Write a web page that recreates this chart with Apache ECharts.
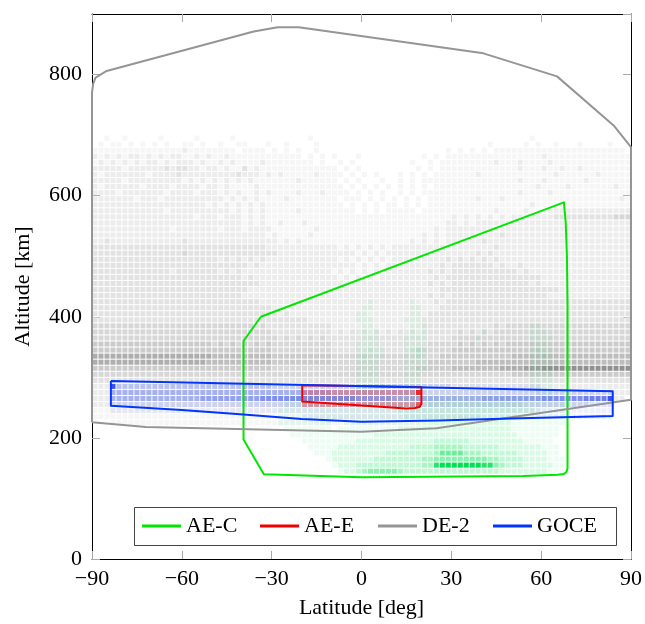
<!DOCTYPE html>
<html>
<head>
<meta charset="utf-8">
<script src="https://cdn.jsdelivr.net/npm/echarts@6/dist/echarts.min.js"></script>
<style>html,body{margin:0;padding:0;background:#fff}#chart{width:645px;height:624px}</style>
</head>
<body>
<div id="chart"></div>
<script>
// ---------- DATA ----------
const seriesNames = ['AE-C', 'AE-E', 'DE-2', 'GOCE'];
const xTicks = [-90, -60, -30, 0, 30, 60, 90];
const yTicks = [0, 200, 400, 600, 800];

// Outline of each satellite's sampled region: [latitude deg, altitude km]
const aecOutline = [[-33.6,400],[67.6,589],[68.2,555],[68.6,500],[68.8,420],[68.8,150],[68.5,144],[67.6,140.5],[65.5,139],[54,137],[0,135],[-32.6,140],[-39.4,197.5],[-39.4,360],[-33.6,400]];
const aeeOutline = [[-19.8,287],[20,284],[20,256],[19.4,251],[17.8,249.2],[15,248.7],[0,253.5],[-19.8,260],[-19.8,287]];
const de2Outline = [[-90,226],[-72,218],[0,210],[25,216],[90,263],[90,680],[84.2,716],[65.3,797],[40.7,835],[-15,874],[-21,878],[-28,878],[-36,871],[-85.1,806],[-88.8,795],[-89.6,785],[-90,770],[-90,226]];
const goceOutline = [[-83.7,294],[83.9,277],[83.9,236],[50,232],[25.6,228.7],[0,226.5],[-20,231],[-39.4,238.5],[-60,246],[-83.7,253],[-83.7,294]];

// Density cells: [altitude bin bottom (10 km bins), 90 digits = 2-degree latitude bins from -90]
const de2Density = [
 [690,"0010010000 0100000100 0001000000 0000001000 0000000000 0000000000 0000000000 0001000000 0000000000"],
 [680,"0101101010 1010011010 0100110001 0010000100 0000000000 0000000000 0000001000 0010100100 0100001000"],
 [670,"1111111111 1111121111 1111011110 1010100100 0000000000 0000000001 0101010111 1111111111 1111111110"],
 [660,"2121212212 1212211212 1121111111 1111101010 1000100000 0000010101 1111111111 1111121111 1111111111"],
 [650,"1212121212 2121222121 1212111121 1111111010 0101000000 0001001011 1111111211 1211112111 1111111111"],
 [640,"2222212222 2232332212 2121131211 1111111111 1010100000 0000101011 1111111111 1211121121 1211111111"],
 [630,"2122222221 2222322222 2222322212 1211111211 1101010100 0101010111 1111211111 1111111211 1111211111"],
 [620,"2222212222 2222212121 2121212111 1111211111 1010100010 0101011111 1111111111 1211121111 1121111111"],
 [610,"2122222212 2221222212 2121111211 1111111111 1101010101 0101010111 1111111111 1111211112 1111111211"],
 [600,"2222122222 2212222122 2121211212 1111211121 1110101010 0101011111 1111111111 1211112111 1111111111"],
 [590,"2222222122 2122222222 2212121211 1121111111 1011101010 1010101111 1111211121 1111111111 1111111121"],
 [580,"2222222222 2222222221 2121212121 1111111111 1101010101 1010101111 1111111111 1112111111 1111111111"],
 [570,"2222222222 2212222222 2221212121 1111211111 1111010101 1111011111 1111111211 1121112222 2222222222"],
 [560,"2222222222 2222222122 2122212121 1111111111 1111111111 1111111111 2121212121 2222222333 3333333444"],
 [550,"2222222222 2222222222 2222212121 1211121111 1111111111 1111111112 2121222222 2222222222 2222222222"],
 [540,"2222222222 2221222222 2122212222 1111111211 1111111111 1111111212 2222222222 2222222222 2222222222"],
 [530,"2222222222 2222222222 2222222221 2111112111 1111111111 1111121212 2222222232 2222222222 2222222222"],
 [520,"2232222222 2222232222 2222222222 2121211111 1111111111 1112121212 2222232222 2222222222 2222222222"],
 [510,"3333333333 3333333333 3333333332 2222222222 2121212121 2222222222 2222222322 2222222222 2222222222"],
 [500,"3333333333 3333343333 3333333333 3222222222 2222121212 2222222222 2222323222 2222222222 2222222222"],
 [490,"3333333333 3333333333 3232323232 2222222222 2121212121 2222222223 2323232322 2222222222 2222222222"],
 [480,"3333333333 3333333333 3333332322 2222222222 2222121212 2222222232 3333333232 2322222222 2222222222"],
 [470,"3333333333 3332333333 3232322222 2222222222 1212121212 2222223232 3333333333 3232222222 2222222222"],
 [460,"3333333333 3333333333 3333323222 2222222222 2121212122 2222222323 3333333333 3333322222 2222222222"],
 [450,"3333333333 3333333333 3333333322 2222222222 2222222222 2222223232 3333333333 3332322222 2222222222"],
 [440,"3333333333 3333333333 3333332222 2222222222 2222222222 2222222233 3333333333 3333333322 2222222222"],
 [430,"3333333333 3333333333 3333322222 2222222222 2222222222 2222223232 3333333333 3333332222 2222222222"],
 [420,"3333333333 3333333333 3333333322 2222222222 2222222222 2222222323 3333333333 3333333333 3333333333"],
 [410,"3333333333 3333333333 3333333333 2222222222 2222222222 2222222233 3333333333 3333333333 3333333333"],
 [400,"3333333333 3333333333 3333333333 3232222222 2222222222 2222223333 3333333333 3333333333 3333333333"],
 [390,"3333333333 3333333333 3333333333 3333332222 2222222222 2222233333 3333333333 3333333333 3333333333"],
 [380,"4444444444 4444444444 4444444343 3333333333 2222222222 2222233333 3333333434 4444444444 4444444444"],
 [370,"4444444444 4444444444 4444444444 3333333333 2323232323 2323233333 3434343444 4444444444 4444444444"],
 [360,"4444444444 4444444444 4444444444 4343434343 3333333333 3333333333 4444444444 4444444444 4444444444"],
 [350,"5555555555 5555555555 4545454545 4444444444 3333333333 3333334444 4545454545 5555555555 5555555555"],
 [340,"5555555555 5555555555 5555555555 4444444444 3333333333 3333444444 5555555555 5555555555 5555555555"],
 [330,"7777777777 7777777777 6666666666 5555555555 4444444444 4444444455 5555555555 6666666666 6666666666"],
 [320,"7777777777 7777777776 6666666666 5555555555 4444444444 4444445555 5555666666 6666666666 6666666666"],
 [310,"5555555555 5555555555 5555555555 4444444444 4444444444 4444555555 6666666677 7788899999 9999999999"],
 [300,"4444444444 4444444444 4444444444 4444444444 4444444444 4444444444 4444444444 5555555555 5555555555"],
 [290,"3333333333 3333333333 3333333333 3333333333 3333333333 3333333333 3333333333 3333333333 3333333333"],
 [280,"2222222222 2222222222 2222222222 2222222222 2222222222 2222222222 2222222222 2222222222 2222222222"],
 [270,"2222222222 2222222222 2222222222 2222222222 2222222222 2222222222 2222222222 2222222222 2222222222"],
 [260,"2222222222 2222222222 2222222222 2222222222 2222222222 2222222222 2222222222 2222222222 2222222220"],
 [250,"2222222222 2222222222 2222222222 2222222222 2222222222 2222222222 2222222222 2222222222 2220000000"],
 [240,"1111111111 1111111111 1111111111 1111111111 1111111111 1111111111 1111111111 1111100000 0000000000"],
 [230,"1111111111 1111111111 1111111111 1111111111 1111111111 1111111111 1111100000 0000000000 0000000000"],
 [220,"0001111111 1111111111 1111111111 1111111111 1111111111 1111100000 0000000000 0000000000 0000000000"]
];

const aecDensity = [
 [420,"0000000000 0000000000 0000000000 0000000000 0000001000 0001000000 0000000000 0000000000 0000000000"],
 [410,"0000000000 0000000000 0000000000 0000000000 0000011000 0001100000 0000000000 0000000000 0000000000"],
 [400,"0000000000 0000000000 0000000000 0000000000 0000110000 0001100000 0000000000 0000000000 0000000000"],
 [390,"0000000000 0000000000 0000000000 0000000000 0000111000 0011100000 0000000000 0000000000 0000000000"],
 [380,"0000000000 0000000000 0000000000 0000000000 0000011000 0001110000 0000000000 0001100000 0000000000"],
 [370,"0000000000 0000000000 0000000000 0000000000 0000111100 0011110000 0000010000 0001110000 0000000000"],
 [360,"0000000000 0000000000 0000000000 0000000000 0000011100 0011110000 0000100000 0001111000 0000000000"],
 [350,"0000000000 0000000000 0000000000 0000000000 0000111100 0011110000 0000000000 0001110000 0000000000"],
 [340,"0000000000 0000000000 0000000000 0000000000 0000112110 0012210000 0000000000 0001211000 0000000000"],
 [330,"0000000000 0000000000 0000000000 0000000000 0000121110 0011210000 0000000000 0001121000 0000000000"],
 [320,"0000000000 0000000000 0000000000 0000000000 0000111100 0011110000 0000000000 0001111000 0000000000"],
 [310,"0000000000 0000000000 0000000000 0000000000 0000111100 0011110000 0000000000 0001111000 0000000000"],
 [300,"0000000000 0000000000 0000000000 0000000000 0000111100 0011100000 0000000000 0001111000 0000000000"],
 [290,"0000000000 0000000000 0000000000 0000000000 0000111100 0011100000 0000000000 0001111000 0000000000"],
 [280,"0000000000 0000000000 0000000000 0000000000 0000111110 0011110000 0000000000 0001111000 0000000000"],
 [270,"0000000000 0000000000 0000000000 0000000000 0000111110 0011110000 0000000000 0000111000 0000000000"],
 [260,"0000000000 0000000000 0000000000 0001111111 1111111111 1111111111 1111111111 1111111000 0000000000"],
 [250,"0000000000 0000000000 0000000000 0011111111 1111111111 1111112222 2222222222 2211111110 0000000000"],
 [240,"0000000000 0000000000 0000000000 0111111111 1111111111 1222222222 2222222222 2222111110 0000000000"],
 [230,"0000000000 0000000000 0000000000 0111111111 1111111111 1122222222 2222222222 2111111110 0000000000"],
 [220,"0000000000 0000000000 0000000000 0111111111 0011111111 1111122222 2222222222 1111111110 0000000000"],
 [210,"0000000000 0000000000 0000000000 0011111111 0111111111 1222222222 2222222222 1111111100 0000000000"],
 [200,"0000000000 0000000000 0000000000 0001111111 1111111222 2222222222 2222222222 2111111100 0000000000"],
 [190,"0000000000 0000000000 0000000000 0000011111 1111222222 2222222333 3332222222 2211111000 0000000000"],
 [180,"0000000000 0000000000 0000000000 0000001111 1222222222 2223333444 4433333322 2222211100 0000000000"],
 [170,"0000000000 0000000000 0000000000 0000000111 2222222223 3333333466 6644433333 3222221100 0000000000"],
 [160,"0000000000 0000000000 0000000000 0000000001 2222222333 3333344555 5555554433 3322221110 0000000000"],
 [150,"0000000000 0000000000 0000000000 0000000000 1222333333 3333344899 9999988543 3322222110 0000000000"],
 [140,"0000000000 0000000000 0000000000 0000000000 0122345555 5433333333 3333333322 2222221110 0000000000"]
];

const goceDensity = [
 [280,"0009333333 3333333333 3333333333 2222222222 2222222222 2222222222 1111111111 1111100000 0000000000"],
 [270,"0004444444 4444444444 4444444444 4444444444 3333333333 3333222222 2222222222 2222222222 2222222000"],
 [260,"0004444444 4444444455 5555555566 6666666666 6666555555 4444444444 4444455555 5555566666 6677779000"],
 [250,"0002222222 2222222222 2222222222 2222222222 2222222222 2222222222 2222222222 2222222222 2222222000"],
 [240,"0001111111 1111111111 1111111111 1111111111 1111111111 1111111111 1111111111 1111111111 1111111000"],
 [230,"0000000000 0000000000 0000000000 0000011111 1111111111 1111111111 1111111111 1111111111 1111111000"]
];

const aeeDensity = [
 [270,"0000000000 0000000000 0000000000 0000033333 3333333333 3333900000 0000000000 0000000000 0000000000"],
 [260,"0000000000 0000000000 0000000000 0000011111 1111111111 1111100000 0000000000 0000000000 0000000000"],
 [250,"0000000000 0000000000 0000000000 0000033333 3333333333 3333600000 0000000000 0000000000 0000000000"]
];

// ---------- STYLE ----------
const FONT = "'Liberation Serif', 'DejaVu Serif', serif";
const lineColors = { 'AE-C': '#00e600', 'AE-E': '#ee0000', 'DE-2': '#959595', 'GOCE': '#0035ff' };
const greyLevels = [255, 246, 236, 226, 215, 203, 189, 174, 159, 145];
const greenAlpha = [0, .07, .15, .24, .34, .45, .58, .72, .86, 1];
const blueAlpha = [0, .08, .16, .26, .36, .46, .56, .66, .78, .92];
const redAlpha = [0, .1, .2, .32, .42, .52, .62, .72, .82, .92];
const LAT_BIN = 2, ALT_BIN = 10;

function toCells(rows) {
  const out = [];
  rows.forEach(([alt, s]) => {
    s = s.replace(/ /g, '');
    for (let i = 0; i < s.length; i++) {
      const v = +s[i];
      if (v > 0) out.push([-90 + LAT_BIN * i, alt, v]);
    }
  });
  return out;
}

function cellSeries(name, rows, fillFn, z) {
  return {
    name: name, type: 'custom', z: z, silent: true, clip: true,
    xAxisIndex: 0, yAxisIndex: 0,
    encode: { x: 0, y: 1 },
    data: toCells(rows),
    renderItem: function (params, api) {
      const lat = api.value(0), alt = api.value(1), v = api.value(2);
      const p0 = api.coord([lat, alt + ALT_BIN]);
      const p1 = api.coord([lat + LAT_BIN, alt]);
      return {
        type: 'rect',
        shape: { x: p0[0] + 0.5, y: p0[1] + 0.5, width: p1[0] - p0[0] - 1, height: p1[1] - p0[1] - 1 },
        style: { fill: fillFn(v) }
      };
    }
  };
}

function lineSeries(name, pts) {
  return {
    name: name, type: 'line', data: pts, showSymbol: false, symbol: 'none',
    color: lineColors[name], z: 5,
    lineStyle: { color: lineColors[name], width: 2, join: 'round' },
    xAxisIndex: 0, yAxisIndex: 0, silent: true
  };
}

const fmt = v => (v < 0 ? '\u2212' + (-v) : String(v));
const tickStyle = { inside: true, length: 8, lineStyle: { color: '#aaaaaa', width: 1 } };
const lineBlack = { show: true, onZero: false, lineStyle: { color: '#000', width: 1 } };
const labelStyle = { fontFamily: FONT, fontSize: 22, color: '#000' };

const legendLefts = [142, 260, 378, 493];

const option = {
  animation: false,
  backgroundColor: '#fff',
  grid: { left: 92, right: 12, top: 14, bottom: 62 },
  xAxis: [
    { type: 'value', min: xTicks[0], max: xTicks[xTicks.length - 1], interval: 30, position: 'bottom',
      axisLine: lineBlack, axisTick: tickStyle, splitLine: { show: false },
      axisLabel: Object.assign({ formatter: fmt, margin: 9 }, labelStyle),
      name: 'Latitude [deg]', nameLocation: 'middle', nameGap: 38, nameTextStyle: labelStyle },
    { type: 'value', min: xTicks[0], max: xTicks[xTicks.length - 1], interval: 30, position: 'top',
      axisLine: lineBlack, axisTick: tickStyle, splitLine: { show: false }, axisLabel: { show: false } }
  ],
  yAxis: [
    { type: 'value', min: yTicks[0], max: 900, interval: 200, position: 'left',
      axisLine: lineBlack, axisTick: tickStyle, splitLine: { show: false },
      axisLabel: Object.assign({ formatter: fmt, margin: 10, showMaxLabel: false }, labelStyle),
      name: 'Altitude [km]', nameLocation: 'middle', nameGap: 58, nameTextStyle: labelStyle },
    { type: 'value', min: yTicks[0], max: 900, interval: 200, position: 'right',
      axisLine: lineBlack, axisTick: tickStyle, splitLine: { show: false }, axisLabel: { show: false } }
  ],
  legend: seriesNames.map((n, i) => ({
    data: [n], left: legendLefts[i], top: 513, padding: 0, itemGap: 0,
    itemWidth: 39, itemHeight: 3, icon: 'rect', z: 10, selectedMode: false,
    textStyle: { fontFamily: FONT, fontSize: 22, color: '#000', lineHeight: 26 }
  })),
  graphic: [{
    type: 'rect', z: 9, left: 134, top: 507,
    shape: { width: 482, height: 38 },
    style: { fill: '#fff', stroke: '#444', lineWidth: 1 }
  }],
  series: [
    cellSeries('de2cells', de2Density, v => { const g = greyLevels[v]; return 'rgb(' + g + ',' + g + ',' + g + ')'; }, 1),
    cellSeries('aeccells', aecDensity, v => 'rgba(0,224,80,' + greenAlpha[v] + ')', 1),
    cellSeries('gocecells', goceDensity, v => 'rgba(40,70,240,' + blueAlpha[v] + ')', 1),
    cellSeries('aeecells', aeeDensity, v => 'rgba(235,30,30,' + redAlpha[v] + ')', 1),
    lineSeries('AE-C', aecOutline),
    lineSeries('AE-E', aeeOutline),
    lineSeries('DE-2', de2Outline),
    lineSeries('GOCE', goceOutline)
  ]
};

const chart = echarts.init(document.getElementById('chart'), null, { renderer: 'canvas' });
chart.setOption(option);
</script>
</body>
</html>
